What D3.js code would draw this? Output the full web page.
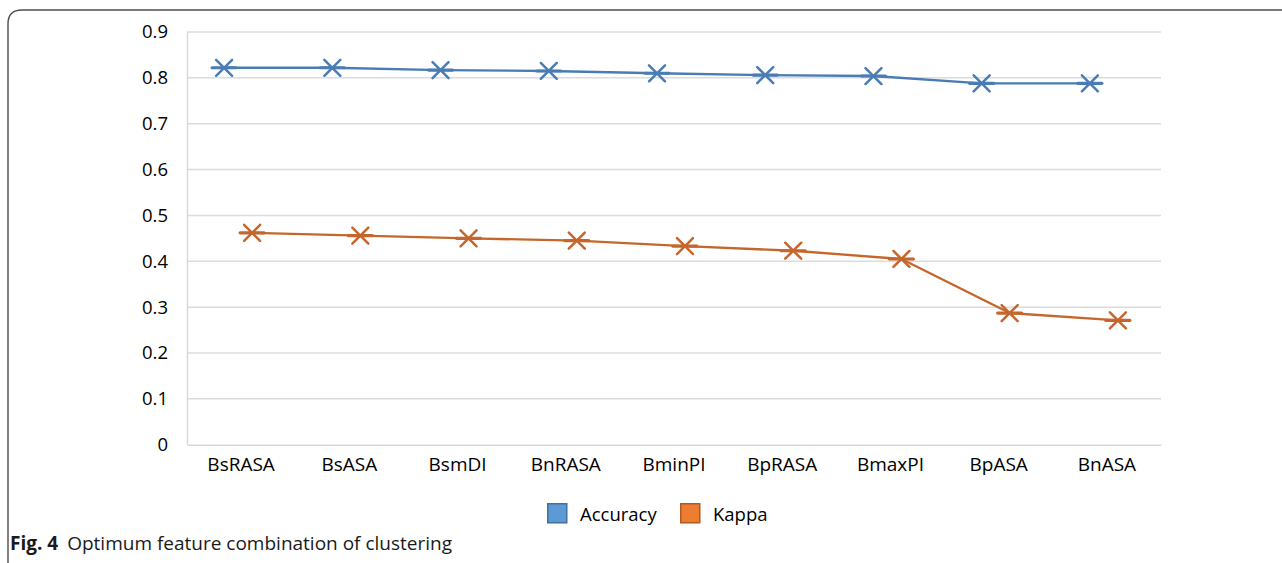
<!DOCTYPE html>
<html>
<head>
<meta charset="utf-8">
<script src="https://cdn.jsdelivr.net/npm/d3@7"></script>
<style>
  html, body { margin: 0; padding: 0; background: #ffffff; }
  svg { display: block; font-family: "Open Sans", "Noto Sans", sans-serif; }
</style>
</head>
<body>
<svg id="chart" width="1282" height="563"></svg>
<script>
// Feature combinations, ordered by clustering performance
const categories = ["BsRASA", "BsASA", "BsmDI", "BnRASA", "BminPI", "BpRASA", "BmaxPI", "BpASA", "BnASA"];
const accuracy = [0.822, 0.822, 0.817, 0.815, 0.810, 0.806, 0.804, 0.788, 0.788];
const kappa = [0.462, 0.456, 0.450, 0.445, 0.433, 0.423, 0.405, 0.287, 0.271];
const yTicks = [0, 0.1, 0.2, 0.3, 0.4, 0.5, 0.6, 0.7, 0.8, 0.9];
const seriesNames = ["Accuracy", "Kappa"];

const svg = d3.select("#chart");

// Plot geometry
const plot = { left: 187, right: 1161, top: 32, bottom: 444.7 };

const x = d3.scaleBand().domain(categories).range([plot.left, plot.right]).padding(0);
const y = d3.scaleLinear().domain([0, 0.9]).range([plot.bottom, plot.top]);

// Series styling (each series' markers sit slightly off the band centre)
const series = [
  { name: seriesNames[0], values: accuracy, line: "#4a7cb4", swatch: "#5b9bd5", swatchStroke: "#41719c", dx: -17 },
  { name: seriesNames[1], values: kappa,    line: "#c5672c", swatch: "#ed7d31", swatchStroke: "#ae5a21", dx: 11 }
];

// Figure frame: open on the right and bottom, rounded top-left corner
const r = 14;
svg.append("path")
  .attr("d", `M8,563 L8,${10 + r} Q8,10 ${8 + r},10 L1282,10`)
  .attr("fill", "none")
  .attr("stroke", "#4d4d4d")
  .attr("stroke-width", 1.4);

// Horizontal gridlines
svg.append("g")
  .selectAll("line")
  .data(yTicks.filter(d => d > 0))
  .join("line")
  .attr("x1", plot.left).attr("x2", plot.right)
  .attr("y1", d => y(d)).attr("y2", d => y(d))
  .attr("stroke", "#dcdcdc")
  .attr("stroke-width", 1.5);

// Y axis (labels only, light axis line)
const yAxis = d3.axisLeft(y).tickValues(yTicks).tickSize(0).tickPadding(19)
  .tickFormat(d => d === 0 ? "0" : d3.format(".1f")(d));
const gy = svg.append("g").attr("transform", `translate(${plot.left},0)`).call(yAxis);
gy.select(".domain").attr("stroke", "#d9d9d9").attr("stroke-width", 1.5);
gy.selectAll("text").attr("font-size", 18.5).attr("fill", "#000")
  .attr("font-family", "\"Open Sans\", sans-serif");

// X axis (labels only, light baseline)
const xAxis = d3.axisBottom(x).tickSize(0).tickPadding(13);
const gx = svg.append("g").attr("transform", `translate(0,${plot.bottom})`).call(xAxis);
gx.select(".domain").attr("stroke", "#d9d9d9").attr("stroke-width", 1.5);
gx.selectAll("text").attr("font-size", 19).attr("fill", "#000")
  .attr("font-family", "\"Open Sans\", sans-serif");

// Lines and markers
const px = (s, c) => x(c) + x.bandwidth() / 2 + s.dx;
const line = d3.line().x(d => d[0]).y(d => d[1]);

series.forEach(s => {
  const pts = categories.map((c, i) => [px(s, c), y(s.values[i])]);
  const g = svg.append("g");
  g.append("path")
    .attr("d", line(pts))
    .attr("fill", "none")
    .attr("stroke", s.line)
    .attr("stroke-width", 2.3)
    .attr("stroke-linejoin", "round");

  const m = g.selectAll("g.marker").data(pts).join("g")
    .attr("class", "marker")
    .attr("transform", d => `translate(${d[0]},${d[1]})`);
  // horizontal bar
  m.append("line")
    .attr("x1", -12).attr("x2", 12).attr("y1", 0).attr("y2", 0)
    .attr("stroke", s.line).attr("stroke-width", 3.2).attr("stroke-linecap", "round");
  // diagonal cross
  m.append("path")
    .attr("d", "M-8,-8L8,8M-8,8L8,-8")
    .attr("stroke", s.line).attr("stroke-width", 2.5).attr("stroke-linecap", "round")
    .attr("fill", "none");
});

// Legend
const legendItems = [
  { s: series[0], x: 547 },
  { s: series[1], x: 680 }
];
const lg = svg.append("g");
legendItems.forEach(it => {
  lg.append("rect")
    .attr("x", it.x + 0.75).attr("y", 503.75)
    .attr("width", 19).attr("height", 19)
    .attr("fill", it.s.swatch)
    .attr("stroke", it.s.swatchStroke)
    .attr("stroke-width", 1.5);
  lg.append("text")
    .attr("x", it.x + 33).attr("y", 521)
    .attr("font-size", 18.5).attr("fill", "#000")
    .text(it.s.name);
});

// Caption
const cap = svg.append("text")
  .attr("x", 10).attr("y", 550)
  .attr("font-size", 19).attr("fill", "#1a1a1a");
cap.append("tspan").attr("font-weight", "bold").text("Fig. 4");
cap.append("tspan").attr("dx", 9).text("Optimum feature combination of clustering");
</script>
</body>
</html>
